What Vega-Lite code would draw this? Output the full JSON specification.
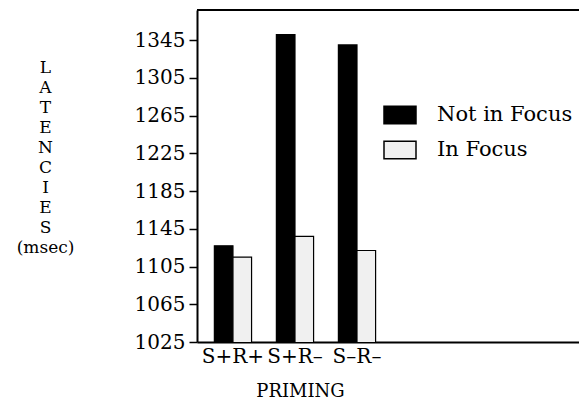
{
  "$schema": "https://vega.github.io/schema/vega-lite/v6.json",
  "width": 382,
  "height": 332,
  "autosize": {"type": "none"},
  "padding": {"left": 197, "top": 10, "right": 0, "bottom": 68},
  "background": "white",
  "config": {
    "view": {"stroke": null},
    "font": "DejaVu Serif",
    "axis": {
      "labelFont": "DejaVu Serif",
      "titleFont": "DejaVu Serif",
      "labelColor": "black",
      "titleColor": "black",
      "domainColor": "black",
      "tickColor": "black",
      "grid": false
    },
    "legend": {"labelFont": "DejaVu Serif", "labelColor": "black"}
  },
  "data": {
    "values": [
      {"priming": "S+R+", "focus": "Not in Focus", "latency": 1127},
      {"priming": "S+R+", "focus": "In Focus", "latency": 1115},
      {"priming": "S+R–", "focus": "Not in Focus", "latency": 1351},
      {"priming": "S+R–", "focus": "In Focus", "latency": 1137},
      {"priming": "S–R–", "focus": "Not in Focus", "latency": 1340},
      {"priming": "S–R–", "focus": "In Focus", "latency": 1122}
    ]
  },
  "layer": [
    {
      "mark": {"type": "bar", "stroke": "black", "strokeWidth": 1.2, "clip": true},
      "encoding": {
        "x": {
          "field": "priming",
          "type": "nominal",
          "scale": {
            "domain": ["S+R+", "S+R–", "S–R–", "_1", "_2", "_3"],
            "paddingInner": 0.4,
            "paddingOuter": 0.28,
            "align": 0.5
          },
          "axis": {
            "values": ["S+R+", "S+R–", "S–R–"],
            "title": "PRIMING",
            "labelAngle": 0,
            "ticks": false,
            "tickSize": 0,
            "labelPadding": 4,
            "labelFontSize": 20,
            "domainWidth": 2,
            "titleFontSize": 18,
            "titleFontWeight": "normal",
            "titleX": 103,
            "titleY": 40,
            "titleBaseline": "top",
            "titleAlign": "center"
          }
        },
        "xOffset": {
          "field": "focus",
          "type": "nominal",
          "sort": ["Not in Focus", "In Focus"],
          "scale": {"paddingInner": 0, "paddingOuter": 0}
        },
        "y": {
          "field": "latency",
          "type": "quantitative",
          "scale": {"domain": [1025, 1377], "zero": false, "nice": false},
          "axis": {
            "values": [1025, 1065, 1105, 1145, 1185, 1225, 1265, 1305, 1345],
            "format": "d",
            "title": ["L", "A", "T", "E", "N", "C", "I", "E", "S", "(msec)"],
            "titleAngle": 0,
            "titleX": -152,
            "titleY": 49,
            "titleAlign": "center",
            "titleBaseline": "top",
            "titleLineHeight": 20,
            "titleFontSize": 17,
            "titleFontWeight": "normal",
            "labelFontSize": 20,
            "tickSize": 8,
            "tickWidth": 1.5,
            "domainWidth": 2,
            "labelPadding": 4
          }
        },
        "color": {
          "field": "focus",
          "type": "nominal",
          "scale": {"domain": ["Not in Focus", "In Focus"], "range": ["#000000", "#f0f0f0"]},
          "legend": {
            "title": null,
            "orient": "none",
            "legendX": 186,
            "legendY": 88,
            "symbolType": "M-1,-0.55H1V0.55H-1Z",
            "symbolSize": 1024,
            "symbolStrokeColor": "black",
            "symbolStrokeWidth": 1.5,
            "symbolOpacity": 1,
            "labelFontSize": 21,
            "labelOffset": 20,
            "rowPadding": 6,
            "padding": 0
          }
        }
      }
    },
    {
      "mark": {"type": "rule", "strokeWidth": 2, "color": "black"},
      "encoding": {"y": {"datum": 1377}}
    }
  ]
}
